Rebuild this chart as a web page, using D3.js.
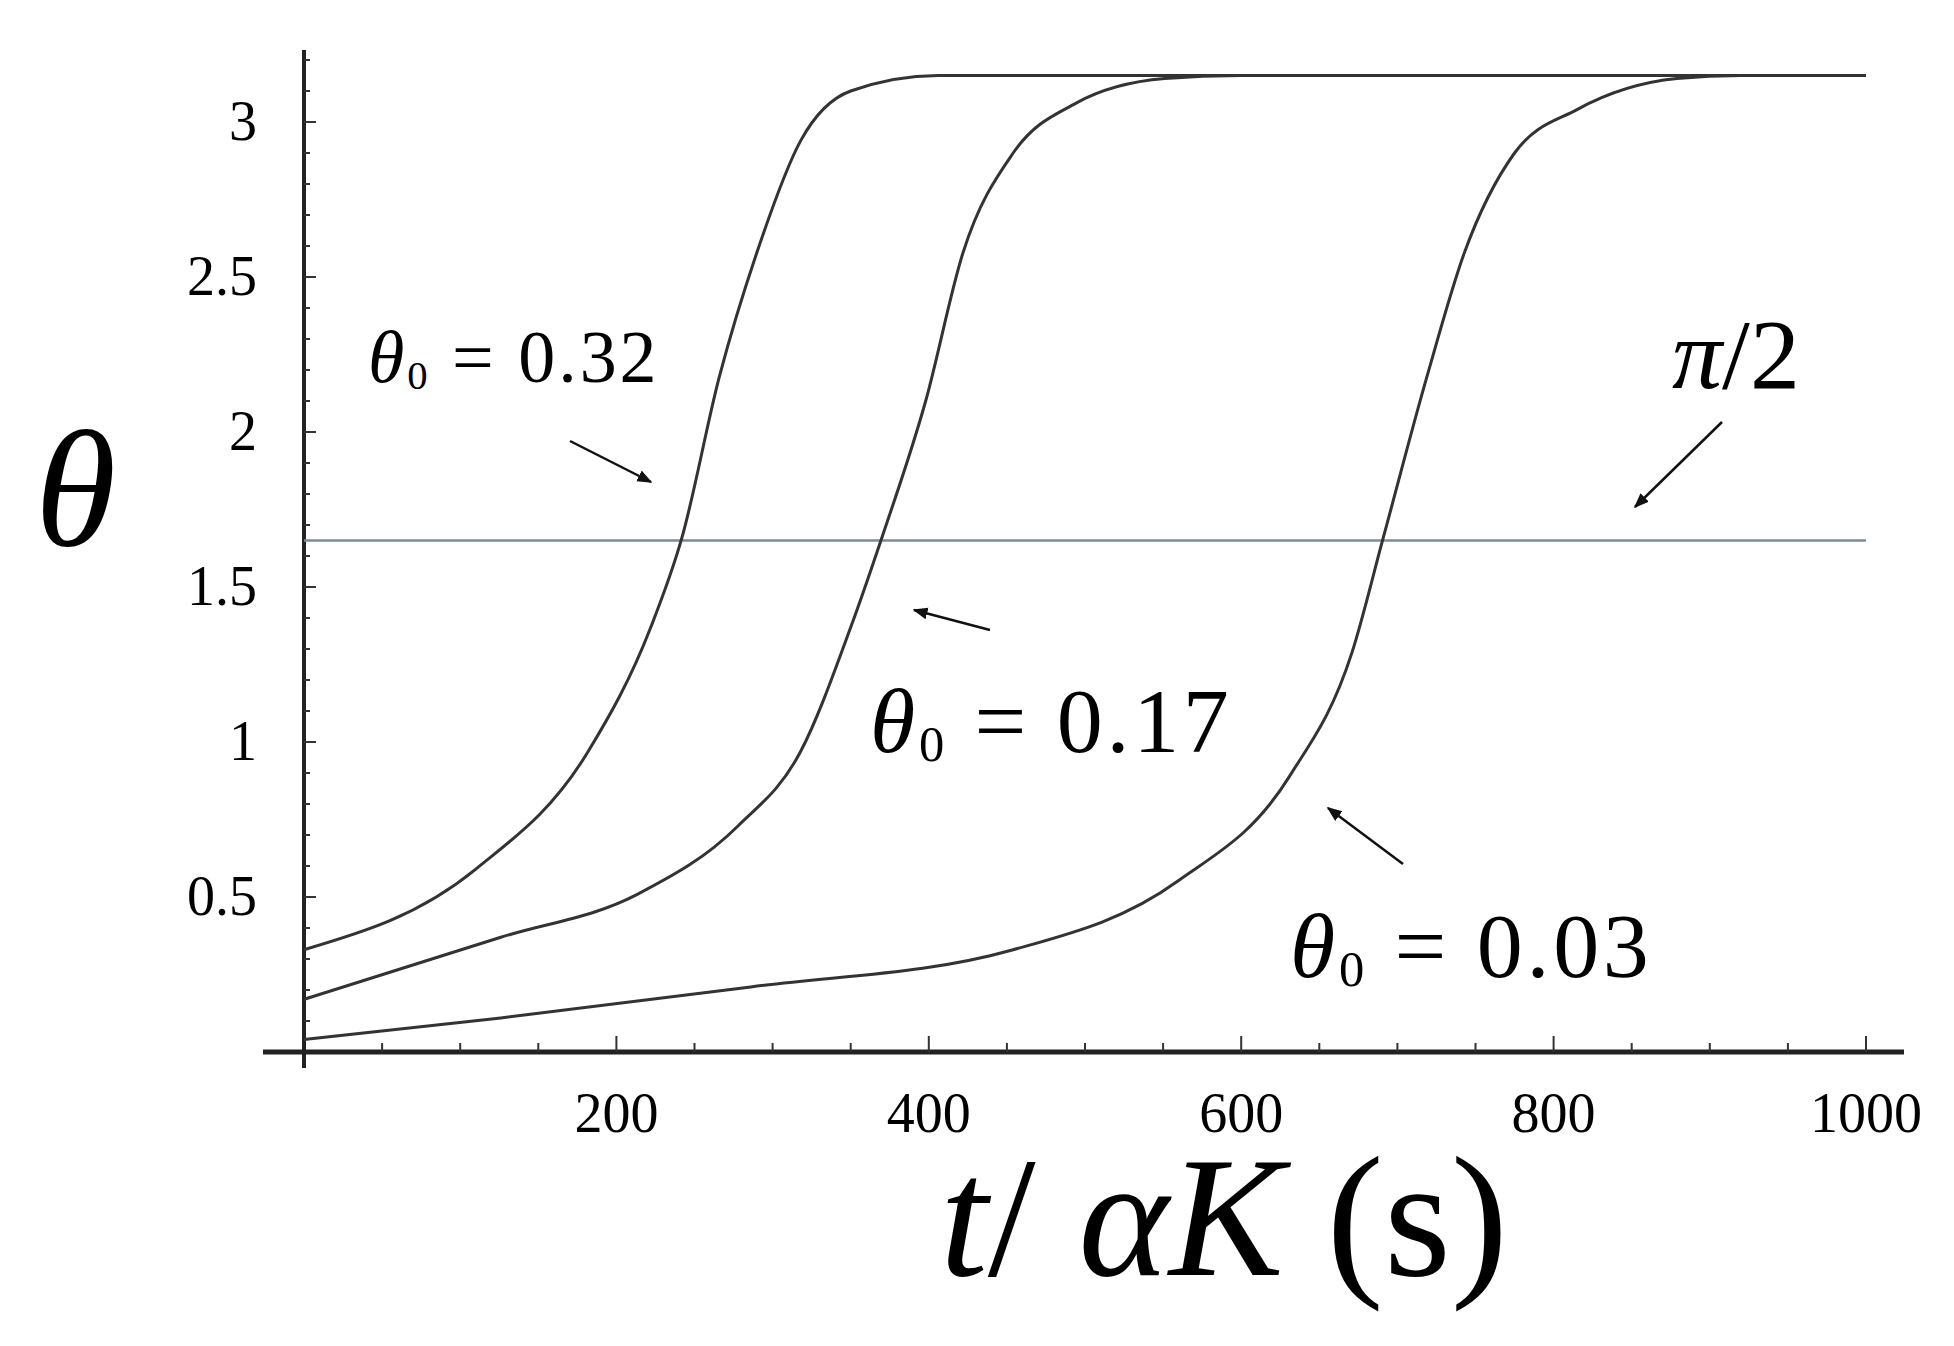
<!DOCTYPE html>
<html><head><meta charset="utf-8">
<script src="https://cdn.jsdelivr.net/npm/d3@7"></script>
<style>body{margin:0;background:#fff}</style>
</head><body>
<div id="chart"></div>
<script>
// DATA
const xTicks = [200, 400, 600, 800, 1000];
const yTicks = [0.5, 1, 1.5, 2, 2.5, 3];
const halfPi = 1.65;
const curve032 = [[0,0.33],[110,0.59],[182,0.97],[222,1.37],[242,1.66],[266,2.18],[290,2.58],[318,2.94],[350,3.10],[406,3.15],[1000,3.15]];
const curve017 = [[0,0.17],[126,0.37],[214,0.51],[278,0.73],[318,0.97],[350,1.37],[370,1.66],[398,2.10],[422,2.58],[454,2.90],[494,3.06],[551,3.14],[600,3.15],[1000,3.15]];
const curve003 = [[0,0.04],[126,0.11],[286,0.21],[454,0.33],[559,0.55],[631,0.89],[671,1.29],[691,1.66],[719,2.18],[743,2.58],[775,2.90],[815,3.04],[879,3.14],[920,3.15],[1000,3.15]];

const W = 1954, H = 1346;
const svg = d3.select("#chart").append("svg").attr("width", W).attr("height", H);

const x = d3.scaleLinear().domain([0, 1000]).range([304, 1866]);
const y = d3.scaleLinear().domain([0, 3]).range([1052, 122]);
const serif = "'Liberation Serif', 'DejaVu Serif', serif";

// axes lines
svg.append("line").attr("x1", 263).attr("x2", 1904).attr("y1", y(0)).attr("y2", y(0))
    .attr("stroke", "#222").attr("stroke-width", 5);
svg.append("line").attr("x1", x(0)).attr("x2", x(0)).attr("y1", 50).attr("y2", 1068)
    .attr("stroke", "#222").attr("stroke-width", 4);

// minor ticks
svg.append("g").selectAll("line").data(d3.range(50, 1001, 50)).join("line")
    .attr("x1", d => x(d)).attr("x2", d => x(d))
    .attr("y1", y(0)).attr("y2", d => y(0) - (d % 200 === 0 ? 16 : 9))
    .attr("stroke", "#333").attr("stroke-width", 2);
svg.append("g").selectAll("line").data(d3.range(0.1, 3.25, 0.1)).join("line")
    .attr("x1", x(0)).attr("x2", d => x(0) + (Math.abs(d * 2 - Math.round(d * 2)) < 0.01 ? 12 : 6))
    .attr("y1", d => y(d)).attr("y2", d => y(d))
    .attr("stroke", "#333").attr("stroke-width", 2);

// tick labels
svg.append("g").selectAll("text").data(xTicks).join("text")
    .attr("x", d => x(d)).attr("y", 1132).attr("text-anchor", "middle")
    .attr("font-family", serif).attr("font-size", 56).text(d => d);
svg.append("g").selectAll("text").data(yTicks).join("text")
    .attr("x", 257).attr("y", d => y(d) + 18).attr("text-anchor", "end")
    .attr("font-family", serif).attr("font-size", 56).text(d => d);

// pi/2 line
svg.append("line").attr("x1", x(0)).attr("x2", x(1000)).attr("y1", y(halfPi)).attr("y2", y(halfPi))
    .attr("stroke", "#7d8b98").attr("stroke-width", 2.5);

// curves
const line = d3.line().x(d => x(d[0])).y(d => y(d[1])).curve(d3.curveMonotoneX);
[curve032, curve017, curve003].forEach(c => {
    svg.append("path").datum(c).attr("d", line)
        .attr("fill", "none").attr("stroke", "#333").attr("stroke-width", 3);
});

// annotations
function label(px, py, size, value) {
    const t = svg.append("text").attr("x", px).attr("y", py)
        .attr("font-family", serif).attr("font-size", size).attr("letter-spacing", size * 0.04);
    t.append("tspan").attr("font-style", "italic").text("θ");
    t.append("tspan").attr("font-size", size * 0.55).attr("dy", size * 0.1).text("0");
    t.append("tspan").attr("dy", -size * 0.1).text(" = " + value);
}
label(368, 382, 74, "0.32");
label(870, 752, 92, "0.17");
label(1290, 977, 92, "0.03");
svg.append("text").attr("x", 1672).attr("y", 388).attr("font-family", serif)
    .attr("font-size", 100).html("<tspan font-style='italic'>π</tspan>/2");

svg.append("defs").append("marker").attr("id", "ah").attr("viewBox", "0 0 10 10")
    .attr("refX", 9).attr("refY", 5).attr("markerWidth", 6).attr("markerHeight", 6)
    .attr("orient", "auto").append("path").attr("d", "M0,1L10,5L0,9z").attr("fill", "#111");
const arrows = [[570, 441, 651, 482], [990, 630, 914, 610], [1403, 864, 1328, 808], [1722, 422, 1635, 507]];
svg.append("g").selectAll("line").data(arrows).join("line")
    .attr("x1", d => d[0]).attr("y1", d => d[1]).attr("x2", d => d[2]).attr("y2", d => d[3])
    .attr("stroke", "#111").attr("stroke-width", 2.5).attr("marker-end", "url(#ah)");

// axis titles
svg.append("text").attr("x", 35).attr("y", 545).attr("font-family", serif)
    .attr("font-style", "italic").attr("font-size", 165).text("θ");
const xl = svg.append("text").attr("x", 940).attr("y", 1275).attr("font-family", serif).attr("font-size", 172);
xl.append("tspan").attr("font-style", "italic").text("t");
xl.append("tspan").text("/ ");
xl.append("tspan").attr("font-style", "italic").text("αK");
xl.append("tspan").text(" (s)");
</script>
</body></html>
